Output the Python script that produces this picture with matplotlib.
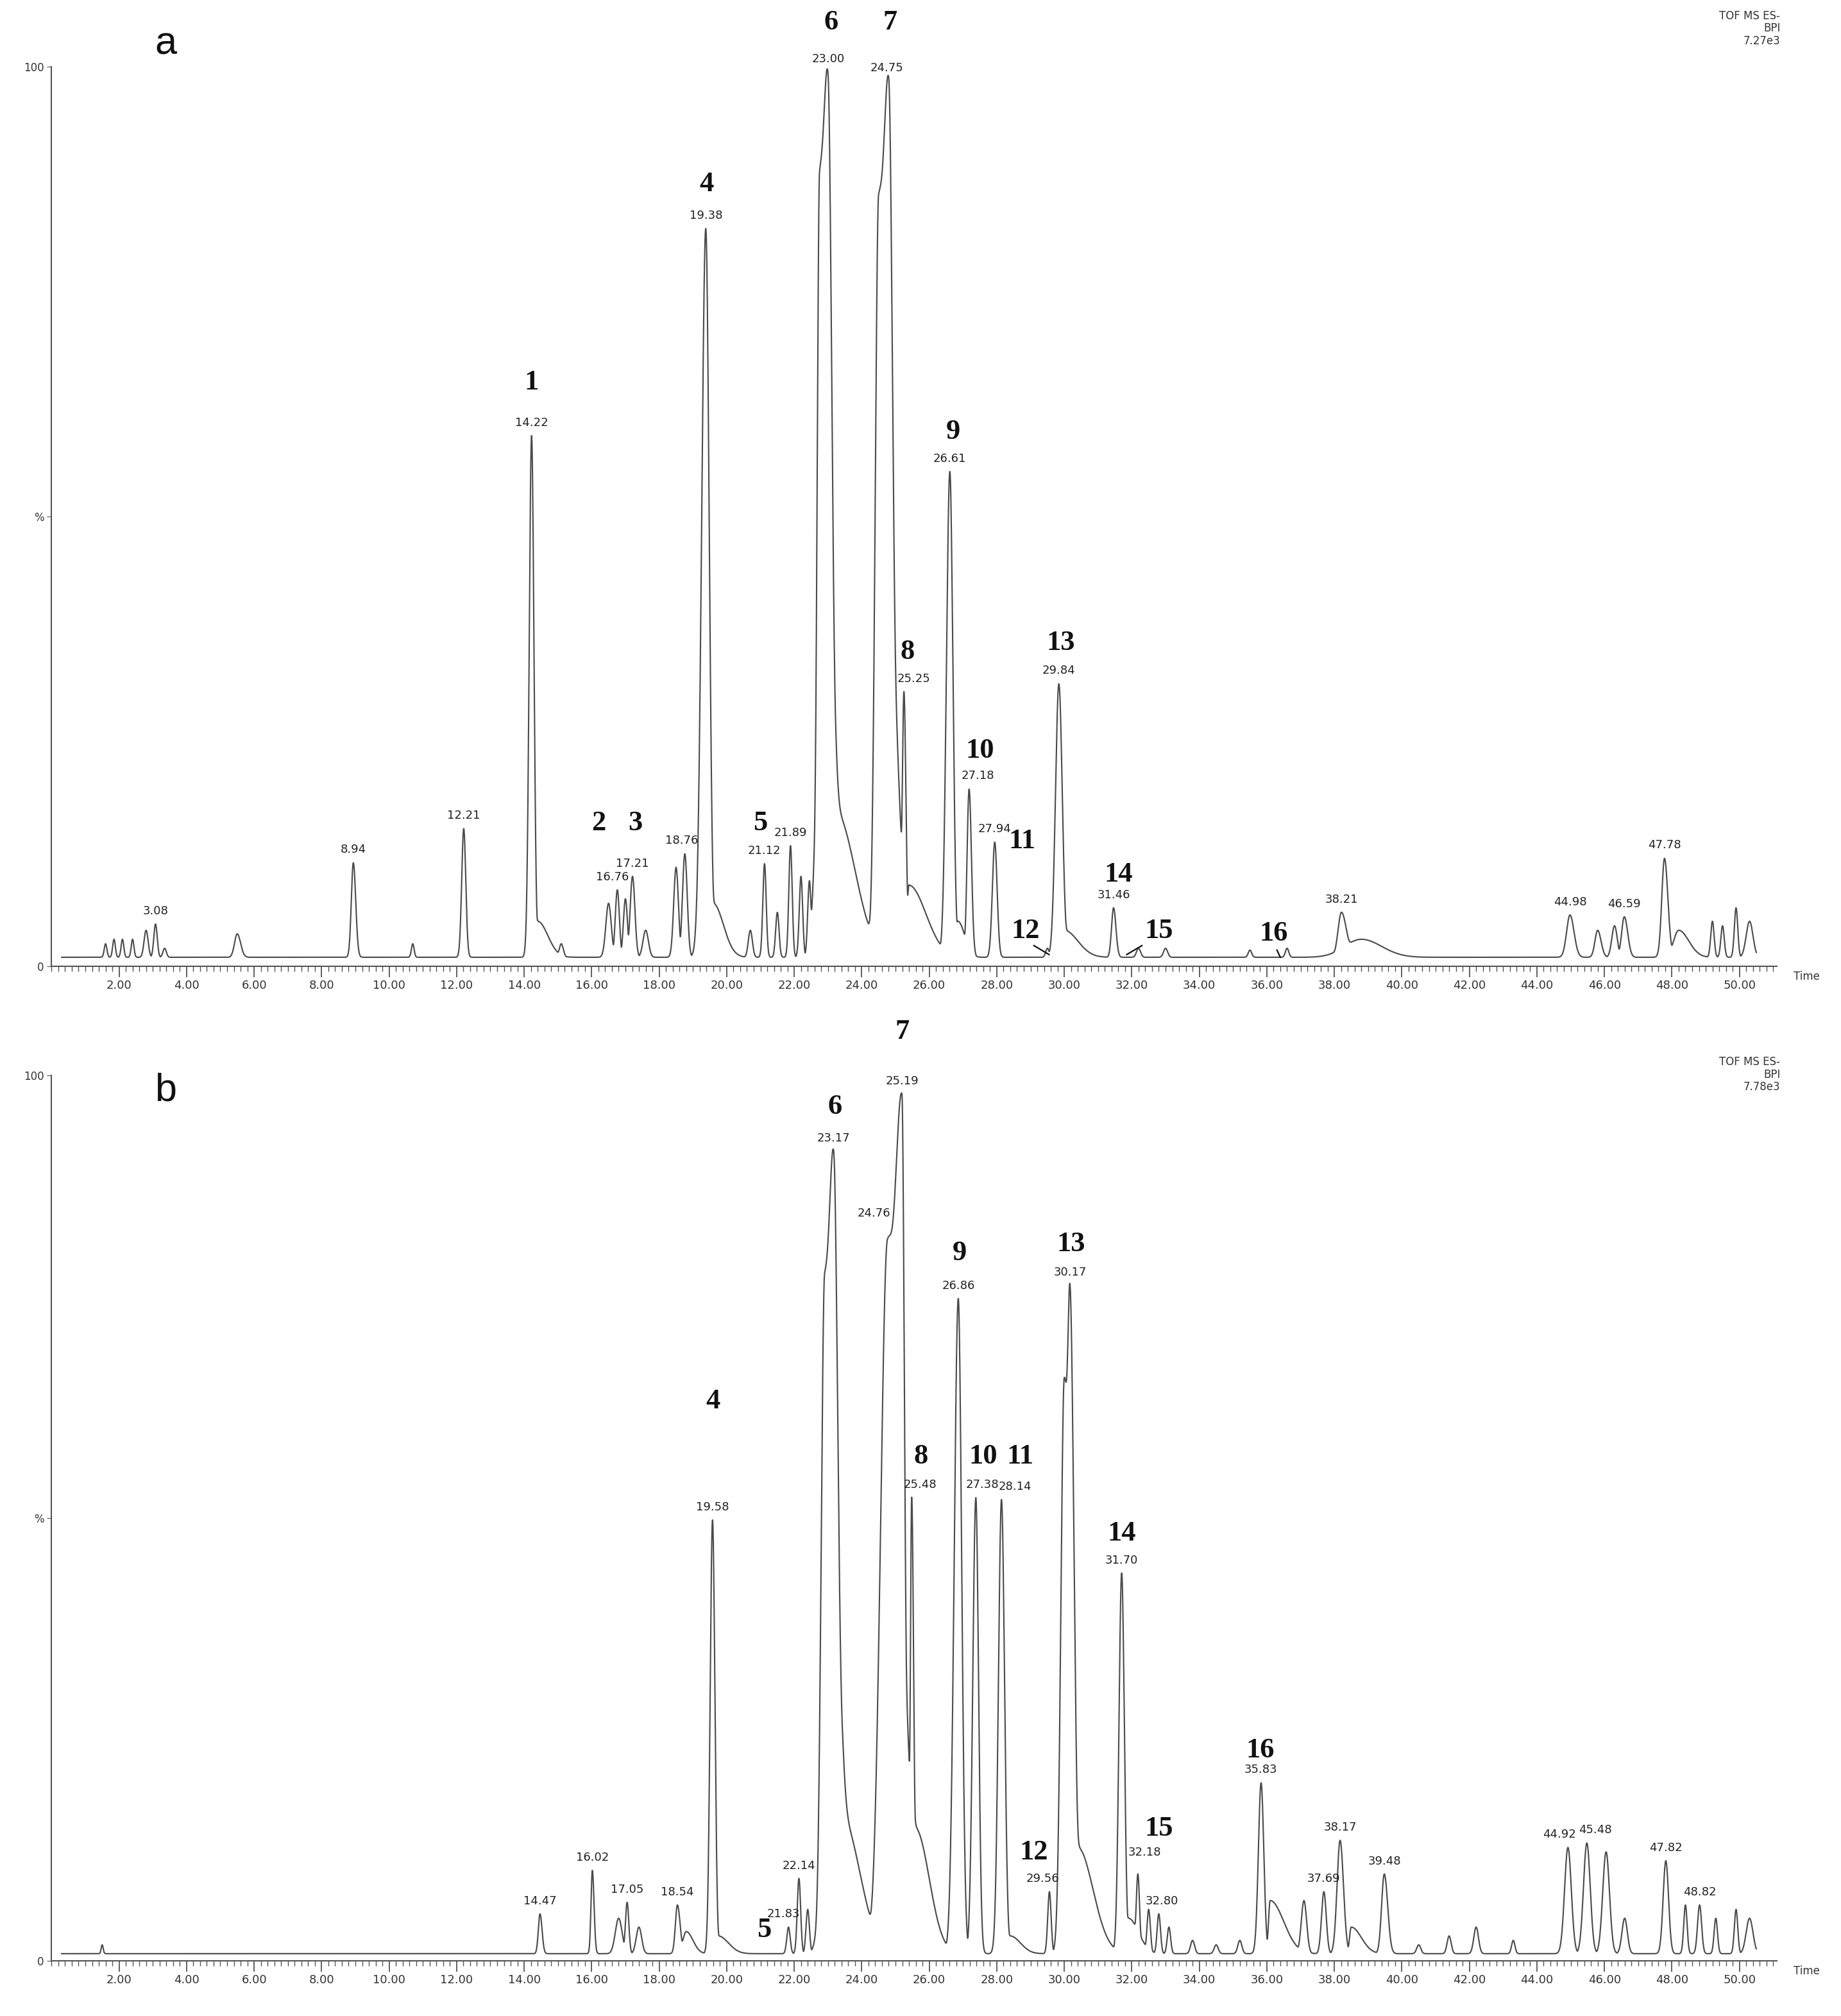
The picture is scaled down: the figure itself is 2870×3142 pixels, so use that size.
import matplotlib.pyplot as plt
import numpy as np
from matplotlib.ticker import MultipleLocator

# peaks: (retention time min, height %, left sigma, right sigma)
a_peaks = [
    (1.6, 1.5, .04, .04), (1.85, 2.0, .04, .04), (2.1, 2.0, .04, .04), (2.4, 2.0, .04, .04),
    (2.8, 3.0, .06, .06), (3.08, 3.7, .05, .05), (3.35, 1.0, .05, .05), (5.5, 2.6, .08, .1),
    (8.94, 10.5, .06, .07), (10.7, 1.5, .04, .04), (12.21, 14.3, .06, .06),
    (14.22, 58.0, .07, .07), (14.4, 4.0, .05, .3), (15.1, 1.5, .06, .06),
    (16.5, 6.0, .08, .08), (16.76, 7.5, .06, .06), (17.0, 6.5, .06, .06), (17.21, 9.0, .07, .07),
    (17.6, 3.0, .08, .08), (18.5, 10.0, .07, .07), (18.76, 11.5, .07, .07),
    (19.38, 81.0, .12, .1), (19.6, 6.0, .05, .3), (20.7, 3.0, .06, .06), (21.12, 10.4, .05, .05),
    (21.5, 5.0, .05, .05), (21.89, 12.4, .05, .05), (22.2, 9.0, .05, .05), (22.45, 8.5, .05, .05),
    (22.75, 86.0, .07, .3), (23.0, 94.5, .2, .12), (23.25, 16.0, .05, .55),
    (24.5, 84.0, .1, .35), (24.8, 94.5, .22, .12), (25.05, 10.0, .05, .1),
    (25.25, 29.5, .05, .06), (25.4, 8.0, .05, .5),
    (26.61, 54.0, .1, .09), (26.85, 4.0, .05, .2), (27.18, 18.7, .06, .07), (27.94, 12.8, .07, .07),
    (29.5, 1.0, .05, .05), (29.84, 30.4, .1, .1), (30.0, 3.0, .05, .4),
    (31.46, 5.5, .06, .07), (32.2, 1.0, .06, .06), (33.0, 1.0, .06, .06), (35.5, 0.8, .05, .05),
    (36.6, 1.0, .05, .05), (38.21, 5.0, .1, .15), (38.8, 2.0, .5, .6),
    (44.98, 4.7, .1, .12), (45.8, 3.0, .08, .1), (46.3, 3.5, .08, .08), (46.59, 4.5, .08, .1),
    (47.78, 11.0, .08, .1), (48.2, 3.0, .15, .3), (49.2, 4.0, .05, .05), (49.5, 3.5, .05, .05),
    (49.9, 5.5, .05, .05), (50.3, 4.0, .1, .1),
]
a_base = 1.0
a_rt_labels = [3.08, 8.94, 12.21, 14.22, 16.76, 17.21, 18.76, 19.38, 21.12, 21.89, 23.00,
               24.75, 25.25, 26.61, 27.18, 27.94, 29.84, 31.46, 38.21, 44.98, 46.59, 47.78]
a_numbers = ["1", "2", "3", "4", "5", "6", "7", "8", "9", "10", "11", "12", "13", "14", "15", "16"]

b_peaks = [
    (1.5, 1.0, .03, .03), (14.47, 4.5, .05, .06), (16.02, 9.4, .04, .05), (16.8, 4.0, .1, .1),
    (17.05, 5.8, .05, .05), (17.4, 3.0, .08, .08), (18.54, 5.5, .06, .08), (18.8, 2.5, .1, .2),
    (19.58, 49.0, .07, .07), (19.75, 2.0, .05, .3), (21.83, 3.0, .05, .05), (22.14, 8.5, .05, .05),
    (22.4, 5.0, .05, .05), (22.9, 76.0, .1, .35), (23.17, 87.0, .2, .13), (23.45, 15.0, .05, .5),
    (24.76, 80.0, .2, .4), (25.19, 96.0, .3, .08), (25.48, 51.5, .04, .06), (25.6, 14.0, .05, .4),
    (26.86, 74.0, .12, .1), (27.38, 51.5, .09, .08), (28.14, 51.3, .09, .09), (28.4, 2.0, .1, .3),
    (29.56, 7.0, .05, .05), (30.0, 65.0, .1, .2), (30.17, 73.0, .1, .12), (30.4, 12.0, .05, .45),
    (31.70, 43.0, .08, .08), (31.9, 4.0, .05, .3), (32.18, 9.0, .05, .05), (32.5, 5.0, .05, .05),
    (32.8, 4.5, .05, .05), (33.1, 3.0, .05, .05), (33.8, 1.5, .06, .06), (34.5, 1.0, .06, .06),
    (35.2, 1.5, .06, .06), (35.83, 19.3, .08, .08), (36.1, 6.0, .05, .4),
    (37.1, 6.0, .08, .08), (37.69, 7.0, .07, .07), (38.17, 12.8, .09, .1), (38.5, 3.0, .05, .3),
    (39.48, 9.0, .08, .1), (40.5, 1.0, .06, .06), (41.4, 2.0, .06, .06), (42.2, 3.0, .07, .07),
    (43.3, 1.5, .05, .05), (44.92, 12.0, .1, .1), (45.48, 12.5, .1, .1), (46.05, 11.5, .1, .1),
    (46.6, 4.0, .08, .08), (47.82, 10.5, .08, .08), (48.4, 5.5, .05, .05), (48.82, 5.5, .06, .06),
    (49.3, 4.0, .05, .05), (49.9, 5.0, .05, .05), (50.3, 4.0, .1, .1),
]
b_base = 0.8
b_rt_labels = [14.47, 16.02, 17.05, 18.54, 19.58, 21.83, 22.14, 23.17, 24.76, 25.19, 25.48,
               26.86, 27.38, 28.14, 29.56, 30.17, 31.70, 32.18, 32.80, 35.83, 37.69, 38.17,
               39.48, 44.92, 45.48, 47.82, 48.82]
b_numbers = ["4", "5", "6", "7", "8", "9", "10", "11", "12", "13", "14", "15", "16"]

# label layout (data units)
a_num_pos = [(14.22, 63.5), (16.2, 14.5), (17.3, 14.5), (19.4, 85.5), (21.0, 14.5),
             (23.1, 103.5), (24.85, 103.5), (25.35, 33.5), (26.7, 58), (27.5, 22.5), (28.75, 12.5),
             (28.85, 2.5), (29.9, 34.5), (31.6, 8.8), (32.8, 2.5), (36.2, 2.2)]
a_leaders = [((29.1, 2.3), (29.55, 1.3)), ((32.3, 2.3), (31.85, 1.3)), ((36.3, 1.8), (36.4, 1.0))]
a_label_shift = {16.76: (-0.15, 0), 25.25: (0.3, 0), 27.18: (0.25, 0), 18.76: (-0.1, 0)}
b_num_pos = [(19.6, 61.7), (21.1, 2.0), (23.2, 95), (25.2, 103.5), (25.75, 55.5), (26.9, 78.5),
             (27.6, 55.5), (28.7, 55.5), (29.1, 10.8), (30.2, 79.5), (31.7, 46.8), (32.8, 13.5),
             (35.8, 22.3)]
b_label_shift = {24.76: (-0.4, 1.5), 25.48: (0.25, 0), 27.38: (0.2, 0), 28.14: (0.4, 0),
                 29.56: (-0.2, 0), 21.83: (-0.15, 0), 45.48: (0.25, 0), 44.92: (-0.25, 0),
                 32.80: (0.1, 0), 32.18: (0.2, 1.0)}

t = np.linspace(0.3, 50.5, 10000)


def trace(peaks, base):
    acc = np.zeros_like(t)
    p = 4.0
    for r, h, sl, sr in peaks:
        s = np.where(t < r, sl, sr)
        acc += (h * np.exp(-0.5 * ((t - r) / s) ** 2)) ** p
    return base + acc ** (1 / p)


def panel(fig, ax, peaks, base, rt_labels, shifts, numbers, num_pos, leaders, header, letter, hy):
    y = trace(peaks, base)
    ax.plot(t, y, color="#4a4a4a", lw=1.5)
    ax.set_xlim(0, 51.1)
    ax.set_ylim(0, 100)
    ax.spines[["top", "right"]].set_visible(False)
    for s in ["left", "bottom"]:
        ax.spines[s].set_color("#555555")
        ax.spines[s].set_linewidth(1.5)
    ticks = np.arange(2, 51, 2)
    ax.set_xticks(ticks)
    ax.set_xticklabels([f"{v:.2f}" for v in ticks], fontsize=13, color="#333333")
    ax.xaxis.set_minor_locator(MultipleLocator(0.2))
    ax.tick_params(axis="x", which="major", length=12, width=1.3, color="#555555")
    ax.tick_params(axis="x", which="minor", length=6, width=1.0, color="#555555")
    ax.set_yticks([0, 50, 100])
    ax.set_yticklabels(["0", "%", "100"], fontsize=12, color="#333333")
    ax.tick_params(axis="y", length=5, color="#555555")
    ax.text(1.01, -0.005, "Time", transform=ax.transAxes, fontsize=12, color="#333333", va="top")
    for r in rt_labels:
        i = np.argmin(np.abs(t - r))
        dx, dy = shifts.get(r, (0, 0))
        ax.text(r + dx, y[i] + 0.8 + dy, f"{r:.2f}", fontsize=13, ha="center", va="bottom",
                color="#222222", family="Liberation Sans Narrow")
    for n, (x, yy) in zip(numbers, num_pos):
        ax.text(x, yy, n, fontsize=32, fontweight="bold", family="Liberation Serif",
                ha="center", va="bottom", color="#111111")
    for p0, p1 in leaders:
        ax.plot([p0[0], p1[0]], [p0[1], p1[1]], color="#111111", lw=1.6)
    fig.text(0.967, hy, header, ha="right", va="top", fontsize=12, color="#333333",
             linespacing=1.1)
    fig.text(0.084, hy - 0.008, letter, fontsize=44, va="top", family="Liberation Sans",
             color="#111111")


fig = plt.figure(figsize=(28.7, 31.42), dpi=100)
ax_a = fig.add_axes([0.028, 0.5207, 0.937, 0.4463])
ax_b = fig.add_axes([0.028, 0.0274, 0.937, 0.4392])

panel(fig, ax_a, a_peaks, a_base, a_rt_labels, a_label_shift, a_numbers, a_num_pos,
      a_leaders, "TOF MS ES-\nBPI\n7.27e3", "a", 0.995)
panel(fig, ax_b, b_peaks, b_base, b_rt_labels, b_label_shift, b_numbers, b_num_pos,
      [], "TOF MS ES-\nBPI\n7.78e3", "b", 0.476)

fig.savefig("out.png", dpi=100, facecolor="white")
